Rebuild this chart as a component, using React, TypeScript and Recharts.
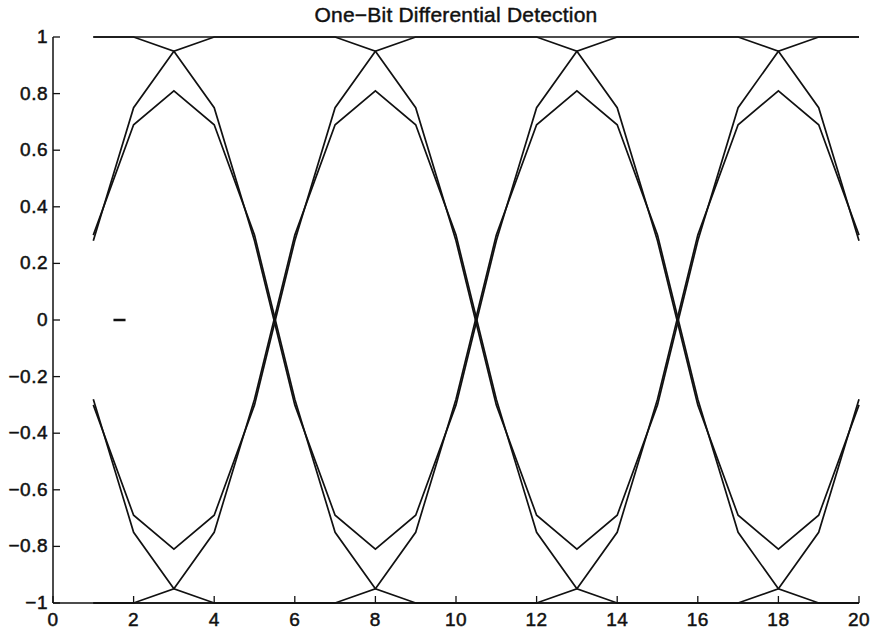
import { LineChart, Line, XAxis, YAxis } from "recharts";

// sample index along the symbol stream (5 samples per symbol)
const samples = [1, 2, 3, 4, 5, 6, 7, 8, 9, 10, 11, 12, 13, 14, 15, 16, 17, 18, 19, 20];

// detector output, one trace per bit pattern
const traceA = [1, 1, 1, 1, 1, 1, 1, 1, 1, 1, 1, 1, 1, 1, 1, 1, 1, 1, 1, 1];
const traceB = [1, 1, 0.95, 0.75, 0.28, -0.3, -0.69, -0.81, -0.69, -0.3, 0.28, 0.75, 0.95, 1, 1, 1, 1, 0.95, 0.75, 0.28];
const traceC = [-0.3, -0.69, -0.81, -0.69, -0.3, 0.28, 0.75, 0.95, 1, 1, 1, 1, 0.95, 0.75, 0.28, -0.3, -0.69, -0.81, -0.69, -0.3];
const traceD = [-0.28, -0.75, -0.95, -1, -1, -1, -1, -0.95, -0.75, -0.28, 0.3, 0.69, 0.81, 0.69, 0.3, -0.28, -0.75, -0.95, -1, -1];
const traceE = [0.28, 0.75, 0.95, 1, 1, 1, 1, 0.95, 0.75, 0.28, -0.3, -0.69, -0.81, -0.69, -0.3, 0.28, 0.75, 0.95, 1, 1];
const traceF = [0.3, 0.69, 0.81, 0.69, 0.3, -0.28, -0.75, -0.95, -1, -1, -1, -1, -0.95, -0.75, -0.28, 0.3, 0.69, 0.81, 0.69, 0.3];
const traceG = [-1, -1, -0.95, -0.75, -0.28, 0.3, 0.69, 0.81, 0.69, 0.3, -0.28, -0.75, -0.95, -1, -1, -1, -1, -0.95, -0.75, -0.28];
const traceH = [-1, -1, -1, -1, -1, -1, -1, -1, -1, -1, -1, -1, -1, -1, -1, -1, -1, -1, -1, -1];

// the little stray mark near the origin
const strayX = [1.5, 1.8];
const strayY = [0, 0];

const xTicks = [0, 2, 4, 6, 8, 10, 12, 14, 16, 18, 20];
const yTicks = [-1, -0.8, -0.6, -0.4, -0.2, 0, 0.2, 0.4, 0.6, 0.8, 1];

const traces = [traceA, traceB, traceC, traceD, traceE, traceF, traceG, traceH];

const data = samples.map((x, i) => {
  const row: Record<string, number> = { x };
  traces.forEach((t, k) => (row["t" + k] = t[i]));
  return row;
});
const strayData = strayX.map((x, i) => ({ x, y: strayY[i] }));

const FONT = '"Liberation Sans", Arial, Helvetica, sans-serif';
const INK = "#111";
const TICK = 7;

const fmtY = (v: number) => (v < 0 ? "\u2212" + Math.abs(v) : String(v));

function LeftTick({ x, y, payload }: any) {
  return (
    <g>
      <line x1={x} x2={x + TICK} y1={y} y2={y} stroke={INK} strokeWidth={1.3} />
      <text x={x - 5} y={y + 6} textAnchor="end" fontSize={19} fontFamily={FONT} fill={INK} stroke={INK} strokeWidth={0.5} letterSpacing={0.5}>
        {fmtY(payload.value)}
      </text>
    </g>
  );
}

function BottomTick({ x, y, payload }: any) {
  return (
    <g>
      <line x1={x} x2={x} y1={y} y2={y - TICK} stroke={INK} strokeWidth={1.3} />
      <text x={x} y={y + 23} textAnchor="middle" fontSize={19} fontFamily={FONT} fill={INK} stroke={INK} strokeWidth={0.5} letterSpacing={0.5}>
        {payload.value}
      </text>
    </g>
  );
}

function RightTick({ x, y }: any) {
  return <line x1={x} x2={x - TICK} y1={y} y2={y} stroke={INK} strokeWidth={1.3} />;
}

function TopTick({ x, y }: any) {
  return <line x1={x} x2={x} y1={y} y2={y + TICK} stroke={INK} strokeWidth={1.3} />;
}

export default function App() {
  return (
    <div style={{ position: "absolute", left: 0, top: 0, width: 874, height: 631, background: "#fff" }}>
      <div
        style={{
          position: "absolute",
          left: 0,
          width: 912,
          top: 4,
          textAlign: "center",
          fontFamily: FONT,
          fontSize: 21,
          lineHeight: "21px",
          letterSpacing: 0.2,
          color: INK,
          WebkitTextStroke: "0.45px #111",
        }}
      >
        One{"\u2212"}Bit Differential Detection
      </div>
      <LineChart width={874} height={631} data={data} margin={{ top: 37, right: 15, bottom: 0, left: 0 }}>
        <XAxis
          xAxisId="bottom"
          dataKey="x"
          type="number"
          domain={[0, 20]}
          ticks={xTicks}
          height={28}
          tickSize={0}
          tickMargin={0}
          tickLine={false}
          axisLine={{ stroke: INK, strokeWidth: 1.5 }}
          tick={<BottomTick />}
        />
        <XAxis
          xAxisId="top"
          orientation="top"
          dataKey="x"
          type="number"
          domain={[0, 20]}
          ticks={xTicks}
          height={0}
          tickSize={0}
          tickMargin={0}
          tickLine={false}
          axisLine={{ stroke: INK, strokeWidth: 1.5 }}
          tick={<TopTick />}
        />
        <YAxis
          yAxisId="left"
          type="number"
          domain={[-1, 1]}
          ticks={yTicks}
          width={53}
          tickSize={0}
          tickMargin={0}
          tickLine={false}
          axisLine={{ stroke: INK, strokeWidth: 1.5 }}
          tick={<LeftTick />}
        />
        <YAxis
          yAxisId="right"
          orientation="right"
          type="number"
          domain={[-1, 1]}
          ticks={yTicks}
          width={0}
          tickSize={0}
          tickMargin={0}
          tickLine={false}
          axisLine={{ stroke: INK, strokeWidth: 1.5 }}
          tick={<RightTick />}
        />
        {traces.map((_, k) => (
          <Line
            key={k}
            xAxisId="bottom"
            yAxisId="left"
            dataKey={"t" + k}
            type="linear"
            stroke={INK}
            strokeWidth={1.7}
            dot={false}
            isAnimationActive={false}
          />
        ))}
        <Line
          xAxisId="bottom"
          yAxisId="left"
          data={strayData}
          dataKey="y"
          type="linear"
          stroke={INK}
          strokeWidth={2.5}
          dot={false}
          isAnimationActive={false}
        />
      </LineChart>
    </div>
  );
}
